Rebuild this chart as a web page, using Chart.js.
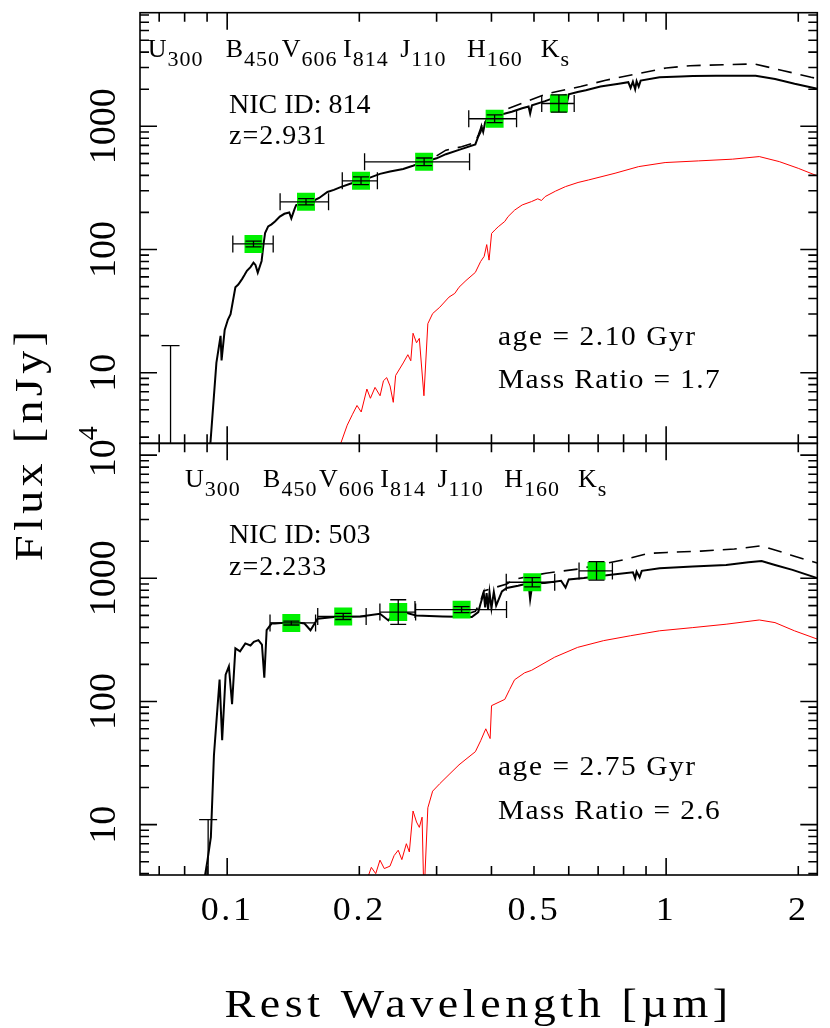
<!DOCTYPE html>
<html>
<head>
<meta charset="utf-8">
<title>NIC 814 / NIC 503 rest-frame SEDs</title>
<script src="https://cdn.jsdelivr.net/npm/chart.js@4.4.1/dist/chart.umd.min.js"></script>
<style>
  html, body { margin: 0; padding: 0; background: #fff; }
  canvas { display: block; }
</style>
</head>
<body>
<canvas id="sed" width="830" height="1028"></canvas>
<script>
// axis ranges (um / nJy) and tick values
const X_RANGE = [0.0633, 2.21];
const TOP_RANGE = [2.67, 8360];
const BOT_RANGE = [3.9, 12470];
const X_MAJOR = [0.1, 1];
const X_MINOR = [0.07, 0.08, 0.09, 0.2, 0.3, 0.4, 0.5, 0.6, 0.7, 0.8, 0.9, 2];
const X_LABELS = [0.1, 0.2, 0.5, 1, 2];
const Y_LABELS = [10, 100, 1000, 10000];

// filters, observed-frame centres in um
const FILTER_NAMES = ['U', 'B', 'V', 'I', 'J', 'H', 'K'];
const FILTER_SUBS = ['300', '450', '606', '814', '110', '160', 's'];
const FILTER_WAVE = [0.300, 0.450, 0.606, 0.814, 1.10, 1.60, 2.20];

// the two galaxies
const NIC_ID = ['814', '503'];
const REDSHIFT = ['2.931', '2.233'];
const AGE = ['2.10', '2.75'];
const MASS_RATIO = ['1.7', '2.6'];

// photometry, top panel (NIC 814)
const TOP_PHOT_WAVE = [0.1148, 0.1512, 0.2018, 0.2810, 0.4067, 0.5698];
const TOP_PHOT_FLUX = [111, 244, 361, 515, 1152, 1531];
const TOP_PHOT_WLO = [0.1030, 0.1320, 0.1829, 0.2056, 0.3551, 0.5207];
const TOP_PHOT_WHI = [0.1273, 0.1702, 0.2199, 0.3566, 0.4563, 0.6174];
const TOP_PHOT_FLO = [105, 230, 336, 479, 1070, 1304];
const TOP_PHOT_FHI = [117, 259, 388, 553, 1240, 1798];
const TOP_LIMIT = [0.0743, 16.6];

// photometry, bottom panel (NIC 503)
const BOT_PHOT_WAVE = [0.1400, 0.1838, 0.2453, 0.3420, 0.4955, 0.6941];
const BOT_PHOT_FLUX = [434, 490, 532, 557, 929, 1149];
const BOT_PHOT_WLO = [0.1252, 0.1608, 0.2228, 0.2678, 0.4323, 0.6333];
const BOT_PHOT_WHI = [0.1590, 0.2073, 0.2687, 0.4329, 0.5574, 0.7544];
const BOT_PHOT_FLO = [418, 463, 422, 527, 853, 967];
const BOT_PHOT_FHI = [450, 519, 670, 590, 1012, 1366];
const BOT_LIMIT = [0.0905, 11];

// model spectra [um, nJy]
const TOP_FIT = [
  [0.0912, 2.2], [0.0945, 12], [0.0966, 19.9], [0.0971, 12.6], [0.0987, 22.2], [0.1004, 27],
  [0.1018, 29.9], [0.1044, 49.4], [0.1060, 52], [0.1081, 57.5], [0.1095, 62], [0.1109, 67.2],
  [0.1130, 72], [0.1148, 78.3], [0.1160, 75], [0.1174, 65], [0.1198, 80.7], [0.1210, 110],
  [0.1220, 136], [0.1240, 154], [0.1262, 160], [0.1285, 169], [0.1318, 185], [0.1350, 195],
  [0.1385, 200], [0.1400, 179], [0.1425, 215], [0.1436, 229], [0.1500, 238], [0.1580, 251],
  [0.1620, 262], [0.1692, 293], [0.1750, 305], [0.1813, 321], [0.1900, 340], [0.2010, 363],
  [0.2100, 380], [0.2229, 411], [0.2350, 430], [0.2518, 451], [0.2650, 478], [0.2790, 510],
  [0.3000, 550], [0.3150, 594], [0.3400, 650], [0.3676, 714], [0.3733, 827], [0.3780, 905],
  [0.3798, 995], [0.3830, 900], [0.3870, 1080], [0.3900, 1127], [0.4076, 1196], [0.4150, 1230],
  [0.4200, 1100], [0.4230, 1250], [0.4450, 1312], [0.4700, 1400], [0.4860, 1450], [0.4900, 1270],
  [0.4948, 1483], [0.5300, 1600], [0.5574, 1710], [0.5900, 1800], [0.5950, 1575], [0.6000, 1820],
  [0.6286, 1897], [0.6563, 1960], [0.7087, 2104], [0.7800, 2220], [0.8200, 2280], [0.8300, 2050],
  [0.8400, 2300], [0.8500, 2000], [0.8565, 2323], [0.8660, 2100], [0.8750, 2350], [0.9665, 2500],
  [1.080, 2540], [1.150, 2564], [1.300, 2575], [1.494, 2577], [1.599, 2577], [1.771, 2425],
  [1.962, 2213], [2.210, 2017]
];
const TOP_ALT = [
  [0.300, 575], [0.315, 640], [0.342, 682], [0.3676, 740], [0.3733, 850], [0.3798, 1010],
  [0.3900, 1160], [0.4076, 1264], [0.4815, 1591], [0.5365, 1843], [0.6386, 2104], [0.7284, 2364],
  [0.8565, 2666], [1.000, 2977], [1.134, 3105], [1.350, 3162], [1.590, 3206], [1.840, 2842],
  [2.140, 2500], [2.210, 2440]
];
const TOP_OLD = [
  [0.1780, 2.2], [0.1877, 3.75], [0.1930, 4.6], [0.1976, 5.42], [0.2020, 4.8], [0.2081, 7.37],
  [0.2120, 6.2], [0.2172, 7.6], [0.2230, 6.5], [0.2270, 8.6], [0.2309, 9.12], [0.2350, 7.8],
  [0.2390, 5.75], [0.2420, 9.5], [0.2518, 12], [0.2580, 14], [0.2620, 12.5], [0.2651, 20.9],
  [0.2700, 17.5], [0.2740, 19], [0.2807, 6.5], [0.2865, 25], [0.2938, 30.2], [0.3050, 34],
  [0.3202, 41.1], [0.3300, 44], [0.3374, 49.4], [0.3500, 56], [0.3676, 65.2], [0.3780, 80],
  [0.3850, 88], [0.3902, 109.6], [0.3950, 82], [0.4003, 135], [0.4076, 144.5], [0.4145, 153],
  [0.4290, 169], [0.4364, 185], [0.4518, 209], [0.4700, 230], [0.4936, 245], [0.5100, 258],
  [0.5200, 250], [0.5302, 269], [0.5600, 298], [0.5898, 324], [0.6300, 350], [0.6658, 367],
  [0.7650, 416], [0.8658, 471], [0.9947, 508], [1.186, 524], [1.415, 541], [1.630, 568],
  [1.810, 517], [2.000, 456], [2.210, 396]
];
const BOT_FIT = [
  [0.0880, 3.0], [0.0902, 5.15], [0.0918, 7.9], [0.0933, 36.8], [0.0945, 68], [0.0961, 150.8],
  [0.0974, 48.5], [0.0992, 165], [0.1009, 193], [0.1026, 95], [0.1044, 270], [0.1070, 255],
  [0.1100, 296], [0.1130, 285], [0.1150, 305], [0.1178, 315], [0.1200, 290], [0.1215, 156],
  [0.1230, 379], [0.1262, 429], [0.1285, 429], [0.1350, 435], [0.1425, 442], [0.1500, 430],
  [0.1548, 379], [0.1607, 470], [0.1752, 485], [0.2010, 490], [0.2229, 515], [0.2330, 455],
  [0.2400, 520], [0.2518, 532], [0.2695, 499], [0.3097, 490], [0.3609, 485], [0.3733, 532],
  [0.3773, 614], [0.3842, 762], [0.3870, 580], [0.3900, 760], [0.3930, 560], [0.3960, 770],
  [0.4000, 570], [0.4050, 775], [0.4100, 600], [0.4226, 784], [0.4335, 835], [0.4600, 870],
  [0.4700, 887], [0.4860, 905], [0.4900, 673], [0.4960, 910], [0.5290, 915], [0.5763, 955],
  [0.5900, 840], [0.6000, 980], [0.6495, 1004], [0.7489, 1069], [0.8400, 1120], [0.8500, 1000],
  [0.8565, 1135], [0.8700, 1020], [0.8800, 1150], [0.9665, 1208], [1.150, 1245], [1.370, 1284],
  [1.540, 1349], [1.650, 1383], [1.770, 1284], [1.940, 1172], [2.210, 1004]
];
const BOT_ALT = [
  [0.3500, 510], [0.3676, 540], [0.3773, 640], [0.3842, 790], [0.4335, 900], [0.4515, 982],
  [0.5323, 1101], [0.6316, 1191], [0.7977, 1411], [0.9115, 1593], [1.0045, 1622], [1.200, 1663],
  [1.430, 1729], [1.650, 1837], [1.920, 1549], [2.210, 1330]
];
const BOT_OLD = [
  [0.2060, 3.2], [0.2130, 4.5], [0.2180, 4.0], [0.2229, 5.15], [0.2280, 4.4], [0.2349, 4.6],
  [0.2400, 5.6], [0.2453, 6.2], [0.2500, 5.2], [0.2560, 7.0], [0.2600, 6.0], [0.2651, 12.9],
  [0.2700, 10.5], [0.2740, 9.5], [0.2780, 11.5], [0.2807, 2.5], [0.2865, 13.7], [0.2938, 18.7],
  [0.3050, 21.5], [0.3202, 25.5], [0.3374, 30.6], [0.3500, 34], [0.3676, 39.1], [0.3780, 48],
  [0.3883, 60], [0.3972, 50], [0.4002, 92.5], [0.4290, 104], [0.4400, 125], [0.4515, 150],
  [0.4761, 171], [0.4936, 179], [0.5574, 229], [0.6286, 275], [0.7208, 312], [0.8300, 342],
  [0.9665, 375], [1.150, 398], [1.370, 424], [1.630, 459], [1.770, 437], [1.960, 375],
  [2.210, 321]
];

const FONT = '"Liberation Serif", "Times New Roman", serif';
const GREEN = '#00f000';
const TOP_H = 436, BOT_H = 437;   // pixel heights of the two panels

const PANELS = [
  { axis: 'yTop', wave: TOP_PHOT_WAVE, flux: TOP_PHOT_FLUX, wlo: TOP_PHOT_WLO, whi: TOP_PHOT_WHI,
    flo: TOP_PHOT_FLO, fhi: TOP_PHOT_FHI, limit: TOP_LIMIT },
  { axis: 'yBot', wave: BOT_PHOT_WAVE, flux: BOT_PHOT_FLUX, wlo: BOT_PHOT_WLO, whi: BOT_PHOT_WHI,
    flo: BOT_PHOT_FLO, fhi: BOT_PHOT_FHI, limit: BOT_LIMIT }
];

const pts = pairs => pairs.map(p => ({ x: p[0], y: p[1] }));
const zip = (xs, ys) => xs.map((x, i) => ({ x, y: ys[i] }));

// clip: 0 keeps every dataset inside its own panel (its y scale box)
function panelSets(axis, wave, flux, fit, alt, old) {
  return [
    { data: zip(wave, flux), yAxisID: axis, clip: 0, showLine: false, pointStyle: 'rect',
      pointRadius: 12.7, pointBackgroundColor: GREEN, pointBorderWidth: 0 },
    { data: pts(fit), yAxisID: axis, clip: 0, borderColor: '#000', borderWidth: 2, pointRadius: 0 },
    { data: pts(alt), yAxisID: axis, clip: 0, borderColor: '#000', borderWidth: 1.6,
      borderDash: [14, 9], pointRadius: 0 },
    { data: pts(old), yAxisID: axis, clip: 0, borderColor: '#ff0000', borderWidth: 1, pointRadius: 0 }
  ];
}

// draws text a bit wider than the font (k = stretch, sp = letter spacing); returns width
function txt(ctx, s, x, y, size, align, k, sp) {
  k = k || 1;
  ctx.font = size + 'px ' + FONT;
  ctx.letterSpacing = (sp || 0) + 'px';
  const w = ctx.measureText(s).width * k;
  let x0 = x;
  if (align === 'center') x0 = x - w / 2;
  if (align === 'right') x0 = x - w;
  ctx.save();
  ctx.translate(x0, y);
  ctx.scale(k, 1);
  ctx.fillText(s, 0, 0);
  ctx.restore();
  ctx.letterSpacing = '0px';
  return w;
}

function filterLabel(ctx, cx, base, name, sub) {
  ctx.letterSpacing = '1px';
  ctx.font = '26px ' + FONT;
  const w1 = ctx.measureText(name).width;
  ctx.font = '22px ' + FONT;
  const w2 = ctx.measureText(sub).width;
  const x0 = cx - (w1 + w2) / 2;
  txt(ctx, name, x0, base, 26, 'left', 1, 1);
  txt(ctx, sub, x0 + w1, base + 9, 22, 'left', 1, 1);
}

const errorBars = {
  id: 'errorBars',
  afterDatasetsDraw(chart) {
    const { ctx, scales } = chart;
    const x = scales.x;
    const seg = (a, b, c, d) => { ctx.moveTo(a, b); ctx.lineTo(c, d); };
    ctx.save();
    ctx.strokeStyle = '#000';
    ctx.lineWidth = 1.3;
    ctx.beginPath();
    PANELS.forEach(p => {
      const y = scales[p.axis];
      p.wave.forEach((w, i) => {
        const cx = x.getPixelForValue(w), cy = y.getPixelForValue(p.flux[i]);
        const x0 = x.getPixelForValue(p.wlo[i]), x1 = x.getPixelForValue(p.whi[i]);
        const y0 = y.getPixelForValue(p.flo[i]), y1 = y.getPixelForValue(p.fhi[i]);
        seg(x0, cy, x1, cy);
        seg(x0, cy - 8.5, x0, cy + 8.5);
        seg(x1, cy - 8.5, x1, cy + 8.5);
        seg(cx, y0, cx, y1);
        seg(cx - 8, y0, cx + 8, y0);
        seg(cx - 8, y1, cx + 8, y1);
      });
      // U band: only an upper limit
      const lx = x.getPixelForValue(p.limit[0]), ly = y.getPixelForValue(p.limit[1]);
      seg(lx, y.bottom, lx, ly);
      seg(lx - 9, ly, lx + 9, ly);
    });
    ctx.stroke();
    ctx.restore();
  }
};

// PGPLOT-like box: inward ticks on all sides, rotated y labels, annotations
const pgFrame = {
  id: 'pgFrame',
  afterDraw(chart) {
    const { ctx, chartArea: a, scales } = chart;
    const x = scales.x;
    ctx.save();
    ctx.strokeStyle = '#000';
    ctx.fillStyle = '#000';
    ctx.lineWidth = 1.6;
    ctx.textBaseline = 'alphabetic';

    PANELS.forEach((p, k) => {
      const y = scales[p.axis];
      ctx.strokeRect(a.left, y.top, a.right - a.left, y.bottom - y.top);
      ctx.beginPath();
      X_MAJOR.concat(X_MINOR).forEach(v => {
        const px = x.getPixelForValue(v);
        const len = X_MAJOR.includes(v) ? 17 : 9;
        ctx.moveTo(px, y.bottom); ctx.lineTo(px, y.bottom - len);
        ctx.moveTo(px, y.top); ctx.lineTo(px, y.top + len);
      });
      for (let d = 1; d <= 1e4; d *= 10) {
        for (let m = 1; m < 10; m++) {
          const v = m * d;
          if (v < y.min || v > y.max) continue;
          const py = y.getPixelForValue(v);
          const len = m === 1 ? 17 : 9;
          ctx.moveTo(a.left, py); ctx.lineTo(a.left + len, py);
          ctx.moveTo(a.right, py); ctx.lineTo(a.right - len, py);
        }
      }
      ctx.stroke();

      // y tick labels, written along the axis
      Y_LABELS.forEach(v => {
        if (v < y.min || v > y.max) return;
        ctx.save();
        ctx.translate(a.left - 25, y.getPixelForValue(v));
        ctx.rotate(-Math.PI / 2);
        if (v >= 1e4) {
          txt(ctx, '10', -22, 0, 38, 'left');
          txt(ctx, String(Math.round(Math.log10(v))), 15, -18, 28, 'left');
        } else {
          txt(ctx, String(v), 0, 0, 38, 'center');
        }
        ctx.restore();
      });

      // filter names at their rest-frame position
      const z = parseFloat(REDSHIFT[k]);
      FILTER_NAMES.forEach((f, i) => {
        filterLabel(ctx, x.getPixelForValue(FILTER_WAVE[i] / (1 + z)), y.top + 44, f, FILTER_SUBS[i]);
      });
      txt(ctx, 'NIC ID: ' + NIC_ID[k], 229, y.top + 100, 28, 'left');
      txt(ctx, 'z=' + REDSHIFT[k], 229, y.top + 131.5, 28, 'left', 1, 1);
      txt(ctx, 'age = ' + AGE[k] + ' Gyr', 498, y.top + 332, 28, 'left', 1.05, 1.5);
      txt(ctx, 'Mass Ratio = ' + MASS_RATIO[k], 498, y.top + 375.5, 28, 'left', 1.05, 1.3);
    });

    // x tick labels under the lower panel
    X_LABELS.forEach(v => {
      txt(ctx, String(v), x.getPixelForValue(v), a.bottom + 45, 34, 'center', 1.06, 2.5);
    });

    // axis titles
    txt(ctx, 'Rest Wavelength [\u00b5m]', (a.left + a.right) / 2, a.bottom + 142, 40, 'center', 1.15, 4);
    ctx.save();
    ctx.translate(42, (a.top + a.bottom) / 2);
    ctx.rotate(-Math.PI / 2);
    txt(ctx, 'Flux [nJy]', 0, 0, 40, 'center', 1.15, 3.8);
    ctx.restore();

    ctx.restore();
  }
};

const hidden = { ticks: { display: false }, grid: { display: false }, border: { display: false } };

const chart = new Chart(document.getElementById('sed'), {
  type: 'line',
  data: {
    datasets: panelSets('yTop', TOP_PHOT_WAVE, TOP_PHOT_FLUX, TOP_FIT, TOP_ALT, TOP_OLD)
      .concat(panelSets('yBot', BOT_PHOT_WAVE, BOT_PHOT_FLUX, BOT_FIT, BOT_ALT, BOT_OLD))
  },
  options: {
    responsive: false,
    animation: false,
    devicePixelRatio: 1,
    events: [],
    layout: { padding: { top: 2, right: 3, left: 0, bottom: 0 } },
    plugins: { legend: { display: false }, tooltip: { enabled: false } },
    scales: {
      x: { type: 'logarithmic', min: X_RANGE[0], max: X_RANGE[1], position: 'bottom', ...hidden,
        afterFit: s => { s.height = 153; } },
      // the last left axis listed ends up on top of the stack
      yBot: { type: 'logarithmic', min: BOT_RANGE[0], max: BOT_RANGE[1], position: 'left',
        stack: 'flux', stackWeight: BOT_H, ...hidden, afterFit: s => { s.width = 140; } },
      yTop: { type: 'logarithmic', min: TOP_RANGE[0], max: TOP_RANGE[1], position: 'left',
        stack: 'flux', stackWeight: TOP_H, ...hidden, afterFit: s => { s.width = 140; } }
    }
  },
  plugins: [errorBars, pgFrame]
});
</script>
</body>
</html>
